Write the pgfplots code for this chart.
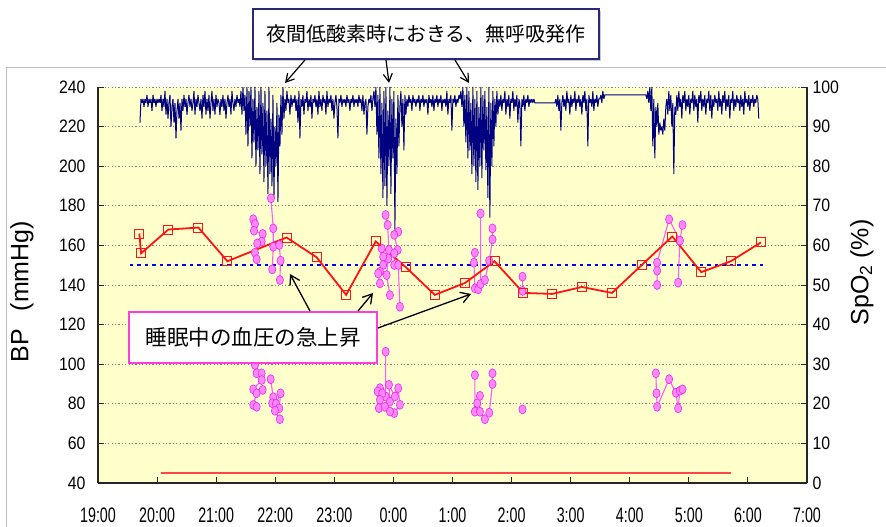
\documentclass[border=0pt]{standalone}
\usepackage{fontspec}
\setmainfont{Liberation Sans}
\newfontfamily\ytfont[FakeStretch=0.88]{Liberation Sans}
\newfontfamily\xtfont[FakeStretch=0.68]{Liberation Sans}
\newfontfamily\jp{Noto Sans CJK JP}
\usepackage{pgfplots}
\pgfplotsset{compat=1.18}
\usepackage{pgfplotstable}
\usetikzlibrary{arrows.meta}

\definecolor{bgy}{RGB}{255,255,204}
\definecolor{navyline}{RGB}{0,0,128}
\definecolor{magline}{RGB}{255,90,255}
\definecolor{magfill}{RGB}{255,135,255}
\definecolor{magedge}{RGB}{235,40,235}
\definecolor{redbp}{RGB}{255,20,20}
\definecolor{redbase}{RGB}{255,70,70}
\definecolor{bluedash}{RGB}{0,0,255}
\definecolor{boxnavy}{RGB}{40,40,120}
\definecolor{boxmag}{RGB}{255,60,220}
\definecolor{gridgray}{RGB}{128,128,128}

\pgfplotstableread{
x y
19.70 166
19.73 156
20.19 168
20.70 169
21.19 152
22.19 164
22.70 154
23.20 135
23.70 162
24.21 149
24.70 135
25.21 141
25.71 152
26.20 136
26.69 135.5
27.19 139
27.70 136
28.20 150
28.72 164.5
29.21 146.5
29.71 152
30.22 161.5
}\bpdata

\pgfplotstableread[row sep=\\]{
s\\
91\\97\\96\\97\\95\\97\\96\\98\\95\\97\\96\\97\\94\\98\\96\\97\\95\\97\\96\\97\\
96\\98\\94\\97\\95\\99\\93\\97\\92\\96\\98\\90\\95\\97\\91\\96\\87\\94\\97\\92\\
96\\89\\97\\94\\98\\95\\97\\93\\96\\98\\95\\97\\94\\96\\99\\93\\97\\95\\98\\96\\
94\\97\\92\\98\\95\\99\\93\\97\\94\\98\\92\\96\\99\\94\\97\\93\\98\\95\\97\\96\\
93\\97\\95\\98\\94\\97\\92\\96\\98\\95\\97\\93\\99\\96\\94\\97\\95\\98\\96\\97\\
95\\99\\93\\100\\94\\98\\88\\100\\85\\99\\90\\100\\82\\97\\86\\100\\80\\95\\84\\99\\
78\\100\\83\\96\\76\\99\\80\\94\\73\\100\\78\\92\\75\\98\\72\\90\\80\\96\\71\\93\\
85\\98\\88\\100\\92\\97\\94\\99\\96\\97\\93\\98\\95\\97\\96\\98\\94\\97\\91\\99\\
87\\97\\95\\98\\93\\97\\96\\99\\94\\97\\95\\98\\92\\97\\96\\98\\95\\97\\93\\99\\
95\\97\\94\\98\\96\\97\\93\\99\\95\\97\\96\\98\\94\\97\\92\\96\\98\\95\\87\\97\\
96\\98\\95\\97\\96\\97\\95\\98\\96\\97\\94\\97\\96\\98\\95\\97\\96\\97\\95\\98\\
96\\97\\94\\98\\93\\96\\97\\88\\95\\97\\96\\98\\94\\97\\99\\95\\100\\88\\98\\82\\
100\\78\\96\\72\\99\\75\\100\\70\\94\\80\\100\\73\\97\\82\\99\\64\\92\\78\\98\\85\\
95\\99\\90\\97\\84\\98\\93\\97\\95\\98\\96\\97\\94\\98\\96\\97\\95\\97\\96\\98\\
94\\97\\96\\98\\95\\97\\96\\97\\93\\98\\96\\97\\95\\98\\94\\97\\96\\98\\95\\97\\
96\\98\\94\\97\\96\\97\\95\\99\\93\\97\\96\\98\\89\\97\\96\\98\\95\\97\\96\\98\\
97\\99\\95\\100\\90\\98\\86\\100\\82\\99\\84\\96\\78\\100\\80\\97\\76\\99\\74\\95\\
80\\100\\77\\98\\84\\99\\79\\95\\72\\100\\67\\96\\80\\99\\85\\97\\90\\99\\93\\97\\
95\\98\\94\\97\\96\\99\\93\\97\\95\\98\\92\\97\\96\\99\\94\\97\\95\\98\\91\\97\\
96\\85\\97\\95\\98\\94\\97\\96\\98\\95\\97\\96\\97\\96\\97\\96\\96\\96\\96\\96\\
96\\96\\96\\96\\96\\96\\96\\96\\96\\96\\96\\96\\96\\96\\96\\96\\97\\95\\98\\94\\
97\\89\\96\\98\\95\\97\\94\\99\\96\\97\\93\\98\\95\\97\\96\\99\\94\\97\\96\\98\\
95\\97\\93\\98\\96\\99\\94\\97\\85\\98\\96\\97\\95\\99\\94\\97\\96\\98\\95\\97\\
97\\98\\96\\99\\97\\98\\98\\98\\98\\98\\98\\98\\98\\98\\98\\98\\98\\98\\98\\98\\
98\\98\\98\\98\\98\\98\\98\\98\\98\\98\\98\\98\\98\\98\\98\\98\\98\\98\\98\\98\\
98\\98\\98\\98\\98\\98\\98\\97\\99\\96\\100\\94\\100\\85\\97\\82\\95\\90\\96\\88\\
91\\89\\90\\88\\92\\89\\95\\97\\93\\99\\94\\98\\90\\96\\78\\95\\93\\98\\94\\99\\
95\\97\\92\\98\\96\\99\\94\\97\\95\\98\\93\\97\\96\\99\\94\\98\\95\\97\\91\\98\\
96\\99\\94\\97\\95\\98\\93\\97\\96\\99\\94\\98\\92\\97\\95\\98\\96\\97\\94\\99\\
95\\97\\93\\98\\96\\99\\94\\97\\95\\98\\92\\97\\96\\99\\94\\97\\95\\98\\96\\97\\
94\\98\\95\\97\\93\\99\\96\\97\\95\\98\\94\\97\\96\\98\\95\\97\\96\\98\\97\\92\\
}\spo

\begin{document}
\begin{tikzpicture}[x=1pt,y=1pt]
\path[use as bounding box] (0,0) rectangle (886,527);
\fill[white] (0,0) rectangle (886,527);
\draw[black!25, line width=1pt] (6,0) -- (6,459) -- (886,459);

% ---------- SpO2 axis (right), background, grid, trace
\begin{axis}[
  at={(98pt,44pt)}, anchor=south west, scale only axis,
  width=709pt, height=396pt,
  xmin=19, xmax=31, ymin=0, ymax=100,
  axis x line=none, axis y line*=right,
  y axis line style={-, line width=1.2pt, black!85},
  axis background/.style={fill=bgy},
  ytick={0,10,...,100},
  tick align=inside, major tick length=6pt,
  tick style={black!85, line width=0.9pt},
  ymajorgrids, grid style={gridgray, line width=0.9pt, dash pattern=on 1.2pt off 2.2pt},
  /pgf/number format/assume math mode=true,
  yticklabel style={font=\ytfont\fontsize{18}{18}\selectfont, anchor=west, xshift=2pt},
]
\addplot[navyline, line width=1pt, line join=miter, miter limit=2] table[x expr={19.7107+\coordindex*0.01692}, y=s]{\spo};
\end{axis}

% ---------- BP axis (left)
\begin{axis}[
  at={(98pt,44pt)}, anchor=south west, scale only axis,
  width=709pt, height=396pt,
  xmin=19, xmax=31, ymin=40, ymax=240,
  axis x line*=bottom, axis y line*=left,
  x axis line style={-, line width=1.2pt, black!85},
  y axis line style={-, line width=1.2pt, black!85},
  tick align=inside, major tick length=6pt,
  tick style={black!85, line width=0.9pt},
  xtick={19,...,31},
  xticklabels={19:00,20:00,21:00,22:00,23:00,0:00,1:00,2:00,3:00,4:00,5:00,6:00,7:00},
  ytick={40,60,...,240},
  /pgf/number format/assume math mode=true,
  yticklabel style={font=\ytfont\fontsize{18}{18}\selectfont, anchor=east, xshift=-9pt},
  xticklabel style={font=\xtfont\fontsize{21}{21}\selectfont, anchor=center, yshift=-32pt},
  clip=false,
]
% reference lines
\addplot[draw=redbase, line width=2.6pt] coordinates {(20.06,45) (29.72,45)};
\addplot[draw=bluedash, line width=1.6pt, dash pattern=on 3.5pt off 4pt] coordinates {(19.54,150) (30.29,150)};

% beat-to-beat BP during surges
\pgfplotsset{magstyle/.style={magline, line width=1.1pt, mark=*, mark size=4.5pt,
  mark options={solid, fill=magfill, draw=magedge, line width=0.6pt, xscale=0.8}}}
\addplot[magstyle] coordinates {(21.628,173.2)(21.657,170.8)(21.640,167.4)(21.787,165.8)(21.770,161.9)(21.695,161)(21.657,156.3)(21.685,153)};
\addplot[magstyle] coordinates {(21.927,183.8)(21.966,168.6)(21.966,159.3)(21.949,147.9)};
\addplot[magstyle] coordinates {(22.068,160.2)(22.090,152.3)(22.078,142.5)};
\addplot[magstyle] coordinates {(21.657,99.6)(21.685,95.4)(21.770,95.4)(21.770,92)(21.628,87.3)(21.787,87)(21.685,85.3)(21.628,79.4)(21.685,78.5)};
\addplot[magstyle] coordinates {(21.922,92.4)(21.966,83.3)(21.949,80.3)(22.012,80)(22.090,85.3)(22.068,77.7)(21.995,76.5)(22.078,72.2)};

\addplot[magstyle] coordinates {(23.868,175.4)(23.902,170.3)(23.924,157.7)(23.912,153.4)(23.885,145)(23.941,134.9)};
\addplot[magstyle] coordinates {(23.800,158.5)(23.827,154.3)(23.827,150.1)(23.772,146.7)(23.743,145.8)(23.772,140.8)};
\addplot[magstyle] coordinates {(24.081,166.9)(24.014,165.3)(24.071,157.7)(24.014,156)(24.014,150.1)(24.081,150.1)(24.110,129)};
\addplot[magstyle] coordinates {(23.868,106.3)(23.868,83.7)(23.941,81.1)(23.924,89.6)(24.025,83.7)(24.081,87.9)(24.110,79.5)(24.014,75.3)};
\addplot[magstyle] coordinates {(23.772,87.9)(23.733,86.2)(23.810,85.3)(23.772,82)(23.755,77.8)(23.856,78.5)(23.941,76.1)};

\addplot[magstyle] coordinates {(25.379,156.3)(25.362,151.3)(25.379,138.3)(25.435,137.8)};
\addplot[magstyle] coordinates {(25.475,176.1)(25.475,140.5)(25.548,142.5)(25.621,152.3)(25.677,163)(25.677,168.6)};
\addplot[magstyle] coordinates {(26.185,144.2)(26.185,137)};
\addplot[magstyle] coordinates {(25.379,94.5)(25.379,76)(25.418,80.3)(25.464,84)(25.464,76)(25.548,72.2)(25.621,75.5)(25.677,90)(25.677,95.4)};
\addplot[magstyle] coordinates {(26.185,77.2)};

\addplot[magstyle] coordinates {(28.463,140)(28.463,147.2)(28.463,151.3)(28.666,173.2)(28.848,162.4)(28.819,141.2)};
\addplot[magstyle] coordinates {(28.893,170.3)(28.848,162.4)};
\addplot[magstyle] coordinates {(28.442,95.4)(28.453,85.3)(28.463,78.5)(28.666,92.4)(28.780,85.6)(28.819,77.7)(28.848,86.6)(28.893,87.3)};

% half-hourly BP
\addplot[draw=redbp, line width=1.8pt, mark=square, mark size=4.5pt,
  mark options={solid, draw=redbp, line width=0.9pt, fill=none}] table[x=x, y=y]{\bpdata};
\end{axis}

% axis titles
\node[rotate=90, font=\fontsize{25}{25}\selectfont] at (22,235.5) {BP\hspace{0.7em}(mmHg)};
\node[rotate=90, font=\fontsize{25}{25}\selectfont] at (862,254.5) {SpO\textsubscript{2} (\%)};

% top callout
\fill[black!20] (255,466) rectangle (601,516);
\node[draw=boxnavy, line width=1.6pt, fill=white, minimum width=346pt, minimum height=50pt, inner sep=0pt]
  at (426,493) {\jp\fontsize{20}{20}\selectfont 夜間低酸素時におきる、無呼吸発作};
\draw[-{Straight Barb[length=8pt,width=9pt]}, line width=1.2pt] (305,467) -- (285,444);
\draw[-{Straight Barb[length=8pt,width=9pt]}, line width=1.2pt] (386,467) -- (389,444);
\draw[-{Straight Barb[length=8pt,width=9pt]}, line width=1.2pt] (455,467) -- (469,444);

% bottom callout
\node[draw=boxmag, line width=1.8pt, fill=white, minimum width=248pt, minimum height=51pt, inner sep=0pt]
  at (253,189.5) {\jp\fontsize{21.5}{21.5}\selectfont 睡眠中の血圧の急上昇};
\draw[-{Straight Barb[length=9pt,width=11pt]}, line width=1.3pt] (310,216) -- (290,253);
\draw[-{Straight Barb[length=9pt,width=11pt]}, line width=1.3pt] (358,216) -- (373,234);
\draw[-{Straight Barb[length=9pt,width=11pt]}, line width=1.3pt] (378,199) -- (471,233);
\end{tikzpicture}
\end{document}
